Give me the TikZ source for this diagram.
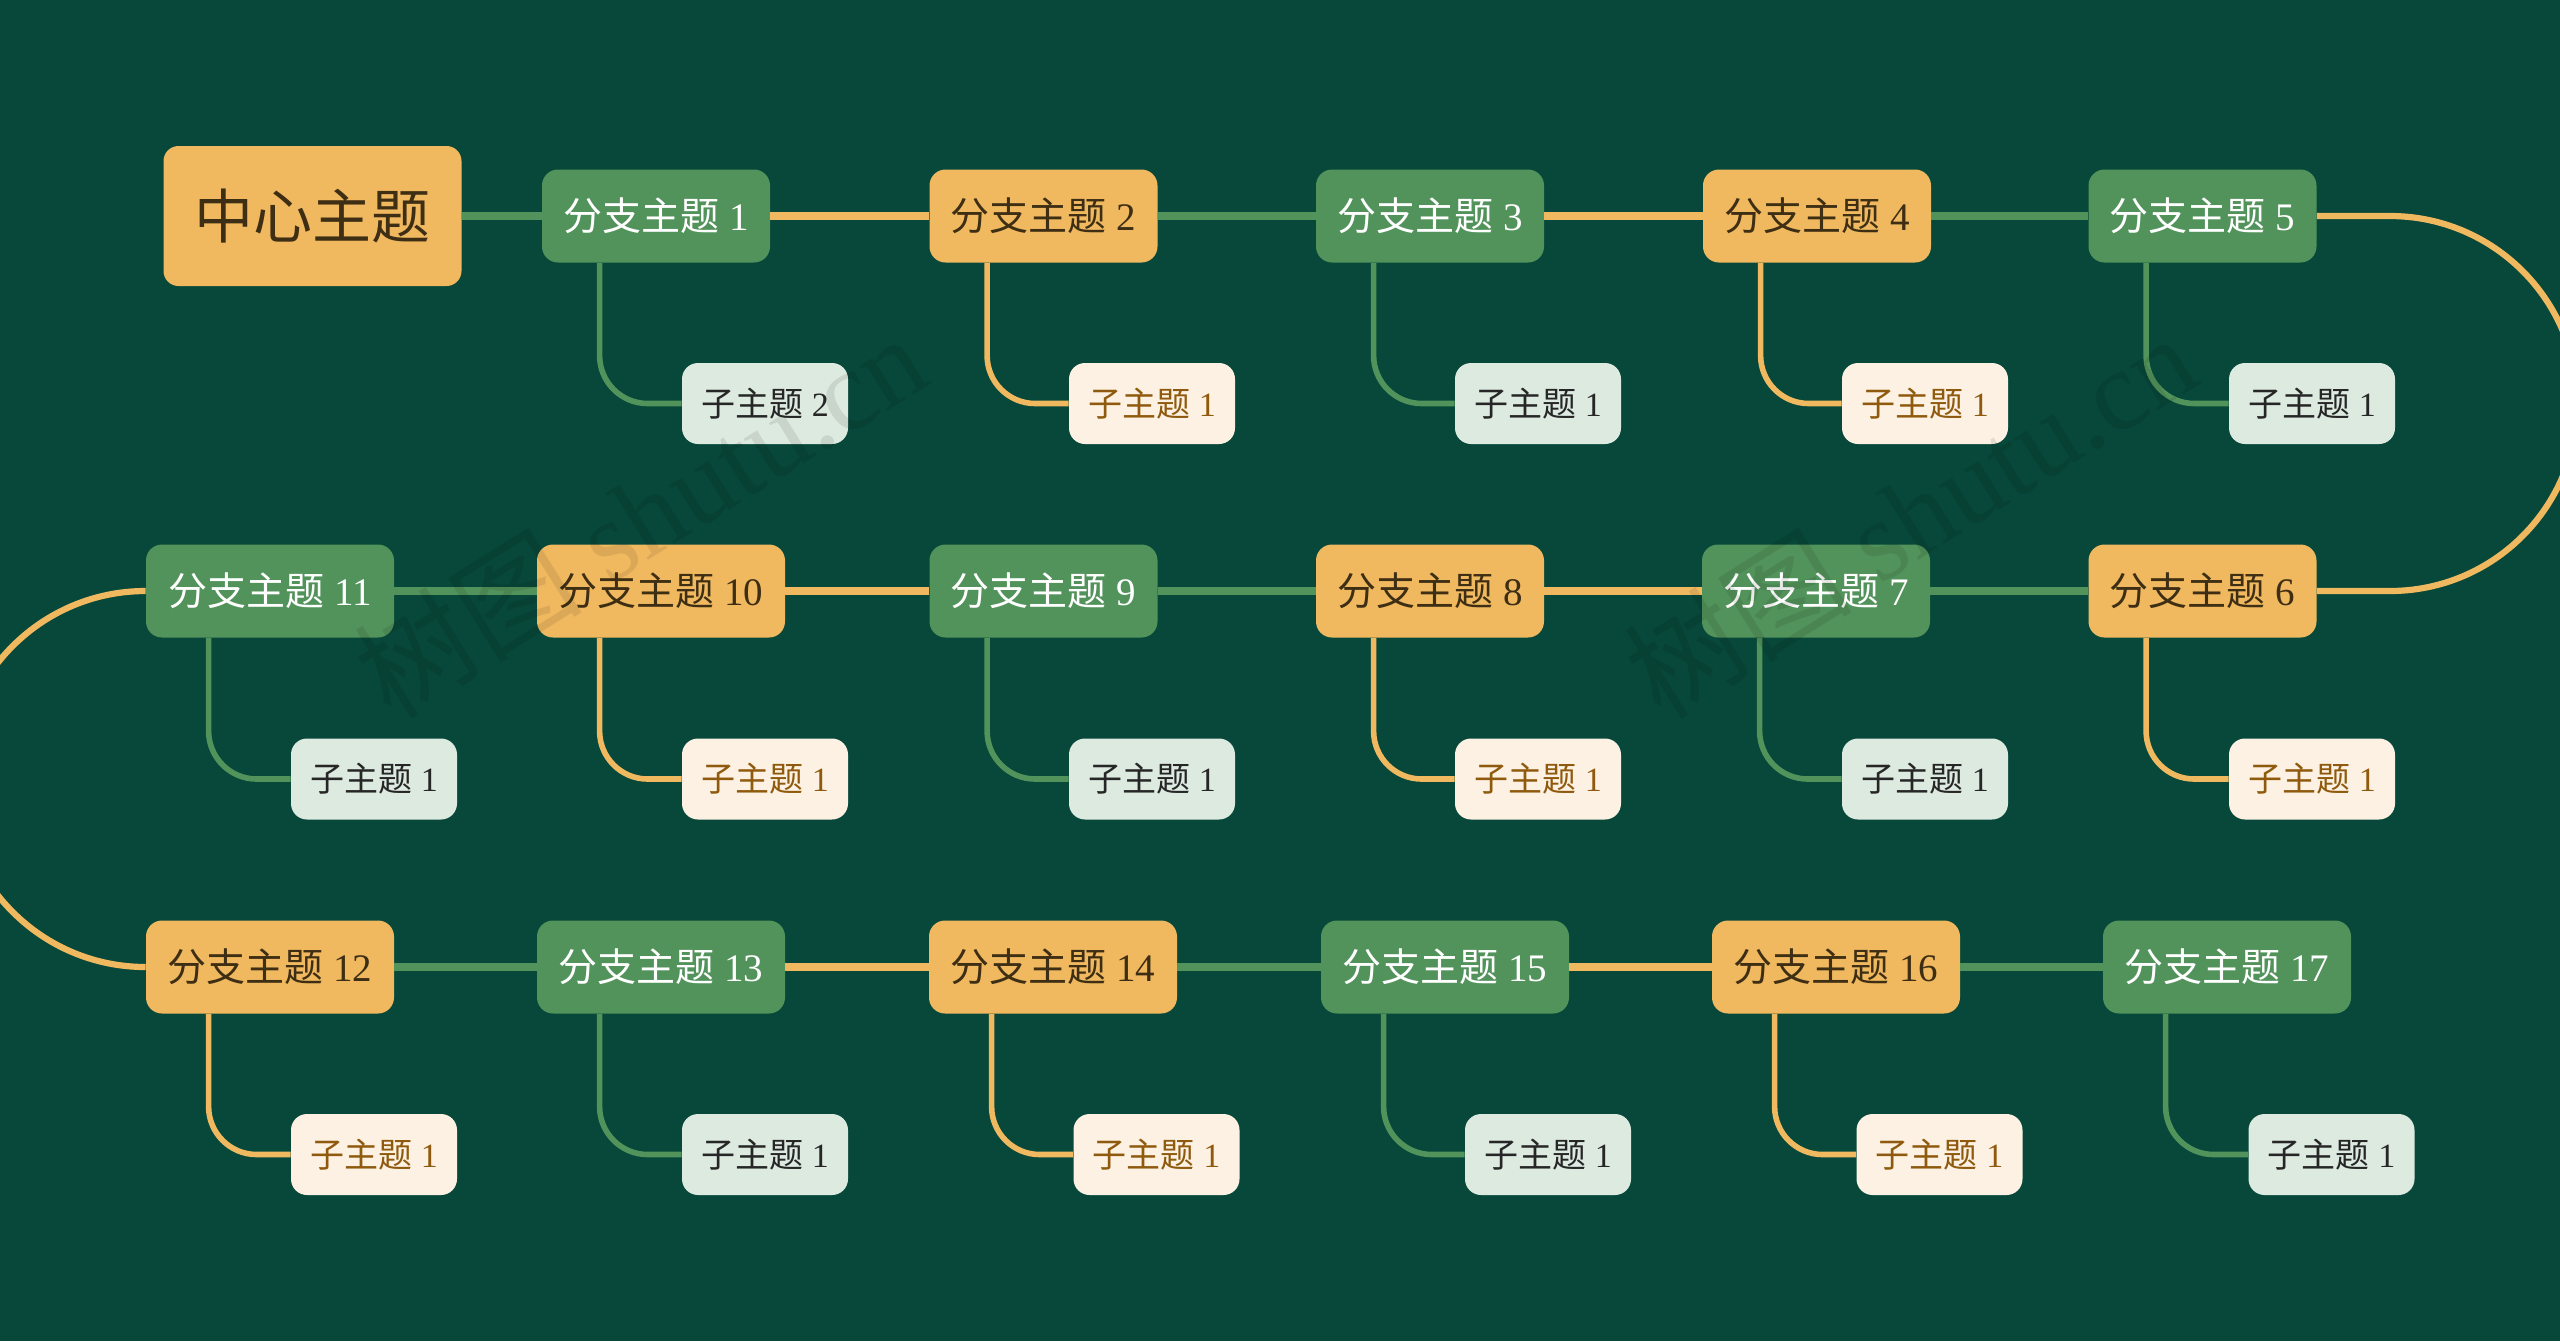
\documentclass[tikz,border=0pt]{standalone}
\usepackage{fontspec}
\setmainfont{Liberation Serif}
\newfontfamily\cjk{Noto Sans CJK SC}
\definecolor{bgcol}{HTML}{07483A}
\definecolor{greencol}{HTML}{52935B}
\definecolor{orangecol}{HTML}{F0B960}
\definecolor{palegreen}{HTML}{DDEAE0}
\definecolor{paleorange}{HTML}{FCF1E2}
\definecolor{darkbrown}{HTML}{3E2E14}
\definecolor{midbrown}{HTML}{8F5A0E}
\newcommand{\branchtext}[1]{{\cjk 分支主题} #1}
\newcommand{\subtext}[1]{{\cjk 子主题} #1}

\begin{document}
\begin{tikzpicture}[
      x=0.5pt,y=-0.5pt,
      every node/.style={inner sep=0pt,align=center},
      root/.style={fill=orangecol,text=darkbrown,rounded corners=7.5pt,
        minimum width=149pt,minimum height=70pt,font=\fontsize{29.5}{32}\selectfont},
      branch/.style={rounded corners=8pt,minimum width=114pt,minimum height=46.5pt,
        font=\fontsize{19.5}{22}\selectfont},
      wide/.style={minimum width=124pt},
      gbranch/.style={branch,fill=greencol,text=white},
      obranch/.style={branch,fill=orangecol,text=darkbrown},
      sub/.style={rounded corners=8pt,minimum width=83pt,minimum height=40.5pt,
        font=\fontsize{17}{20}\selectfont},
      gsub/.style={sub,fill=palegreen,text=black!85},
      osub/.style={sub,fill=paleorange,text=midbrown},
      glink/.style={draw=greencol,line width=3.6pt},
      olink/.style={draw=orangecol,line width=3.6pt},
      gdrop/.style={draw=greencol,line width=2.8pt,rounded corners=24pt},
      odrop/.style={draw=orangecol,line width=2.8pt,rounded corners=24pt},
      mark text/.style={rotate=32,text=black,opacity=0.09,font=\fontsize{57}{60}\selectfont}
    ]
      \fill[bgcol] (0,0) rectangle (2560,1341);
      \useasboundingbox (0,0) rectangle (2560,1341);

      % first row
      \node[root] (center) at (312.5,216) {\cjk 中心主题};
      \node[gbranch] (b1) at (656,216) {\branchtext{1}};
      \node[obranch] (b2) at (1043.5,216) {\branchtext{2}};
      \node[gbranch] (b3) at (1430,216) {\branchtext{3}};
      \node[obranch] (b4) at (1817,216) {\branchtext{4}};
      \node[gbranch] (b5) at (2202.5,216) {\branchtext{5}};
      \node[gsub] (s1) at (765,403.5) {\subtext{2}};
      \node[osub] (s2) at (1152,403.5) {\subtext{1}};
      \node[gsub] (s3) at (1538,403.5) {\subtext{1}};
      \node[osub] (s4) at (1925,403.5) {\subtext{1}};
      \node[gsub] (s5) at (2312,403.5) {\subtext{1}};

      % second row
      \node[gbranch,wide] (b11) at (270,591) {\branchtext{11}};
      \node[obranch,wide] (b10) at (661,591) {\branchtext{10}};
      \node[gbranch] (b9) at (1043.5,591) {\branchtext{9}};
      \node[obranch] (b8) at (1430,591) {\branchtext{8}};
      \node[gbranch] (b7) at (1816,591) {\branchtext{7}};
      \node[obranch] (b6) at (2202.5,591) {\branchtext{6}};
      \node[gsub] (s11) at (374,779) {\subtext{1}};
      \node[osub] (s10) at (765,779) {\subtext{1}};
      \node[gsub] (s9) at (1152,779) {\subtext{1}};
      \node[osub] (s8) at (1538,779) {\subtext{1}};
      \node[gsub] (s7) at (1925,779) {\subtext{1}};
      \node[osub] (s6) at (2312,779) {\subtext{1}};

      % third row
      \node[obranch,wide] (b12) at (270,967) {\branchtext{12}};
      \node[gbranch,wide] (b13) at (661,967) {\branchtext{13}};
      \node[obranch,wide] (b14) at (1053,967) {\branchtext{14}};
      \node[gbranch,wide] (b15) at (1445,967) {\branchtext{15}};
      \node[obranch,wide] (b16) at (1836,967) {\branchtext{16}};
      \node[gbranch,wide] (b17) at (2227,967) {\branchtext{17}};
      \node[osub] (s12) at (374,1154.5) {\subtext{1}};
      \node[gsub] (s13) at (765,1154.5) {\subtext{1}};
      \node[osub] (s14) at (1156.5,1154.5) {\subtext{1}};
      \node[gsub] (s15) at (1548,1154.5) {\subtext{1}};
      \node[osub] (s16) at (1939.5,1154.5) {\subtext{1}};
      \node[gsub] (s17) at (2331.5,1154.5) {\subtext{1}};

      % main line
      \draw[glink] (center.east) -- (b1.west);
      \draw[olink] (b1.east) -- (b2.west);
      \draw[glink] (b2.east) -- (b3.west);
      \draw[olink] (b3.east) -- (b4.west);
      \draw[glink] (b4.east) -- (b5.west);
      \draw[olink,line width=3.1pt] (b5.east) -- ++(73,0)
        arc[start angle=-90,end angle=90,radius=187.5] -- (b6.east);
      \draw[glink] (b6.west) -- (b7.east);
      \draw[olink] (b7.west) -- (b8.east);
      \draw[glink] (b8.west) -- (b9.east);
      \draw[olink] (b9.west) -- (b10.east);
      \draw[glink] (b10.west) -- (b11.east);
      \draw[olink,line width=3.1pt] (b11.west)
        arc[start angle=-90,end angle=-270,radius=188] -- (b12.west);
      \draw[glink] (b12.east) -- (b13.west);
      \draw[olink] (b13.east) -- (b14.west);
      \draw[glink] (b14.east) -- (b15.west);
      \draw[olink] (b15.east) -- (b16.west);
      \draw[glink] (b16.east) -- (b17.west);

      % drops to the sub topics
      \draw[gdrop] ([xshift=29pt]b1.south west) |- (s1.west);
      \draw[odrop] ([xshift=29pt]b2.south west) |- (s2.west);
      \draw[gdrop] ([xshift=29pt]b3.south west) |- (s3.west);
      \draw[odrop] ([xshift=29pt]b4.south west) |- (s4.west);
      \draw[gdrop] ([xshift=29pt]b5.south west) |- (s5.west);
      \draw[odrop] ([xshift=29pt]b6.south west) |- (s6.west);
      \draw[gdrop] ([xshift=29pt]b7.south west) |- (s7.west);
      \draw[odrop] ([xshift=29pt]b8.south west) |- (s8.west);
      \draw[gdrop] ([xshift=29pt]b9.south west) |- (s9.west);
      \draw[odrop] ([xshift=31.5pt]b10.south west) |- (s10.west);
      \draw[gdrop] ([xshift=31.5pt]b11.south west) |- (s11.west);
      \draw[odrop] ([xshift=31.5pt]b12.south west) |- (s12.west);
      \draw[gdrop] ([xshift=31.5pt]b13.south west) |- (s13.west);
      \draw[odrop] ([xshift=31.5pt]b14.south west) |- (s14.west);
      \draw[gdrop] ([xshift=31.5pt]b15.south west) |- (s15.west);
      \draw[odrop] ([xshift=31.5pt]b16.south west) |- (s16.west);
      \draw[gdrop] ([xshift=31.5pt]b17.south west) |- (s17.west);

      % watermarks
      \node[mark text] (mark1) at (640,515) {{\cjk 树图} shutu.cn};
      \node[mark text] (mark2) at (1910,515) {{\cjk 树图} shutu.cn};
    \end{tikzpicture}
\end{document}
